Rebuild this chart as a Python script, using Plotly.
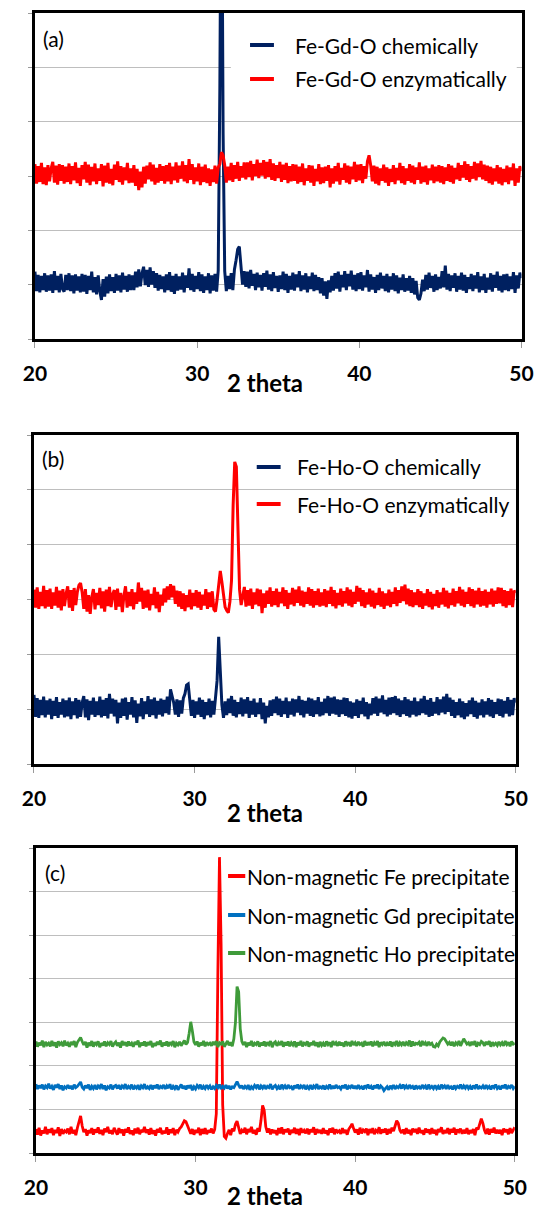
import numpy as np
import plotly.graph_objects as go

# ---------------- data (2-theta grid: 20.0 .. 50.0, step 0.1) ----------------
THETA_START = 20.0
THETA_STEP = 0.1
x_tick_vals = [20, 30, 40, 50]
axis_title = "2 theta"

# Panel (a)
fe_gd_o_chem = [
    124, 88, 118, 86, 116, 90, 121, 87, 117, 89,
    119, 85, 125, 90, 116, 86, 120, 92, 87, 118,
    90, 121, 88, 117, 84, 119, 89, 115, 86, 120,
    87, 118, 83, 116, 90, 124, 86, 114, 82, 117,
    88, 72, 110, 78, 115, 84, 119, 88, 114, 85,
    120, 89, 117, 86, 122, 91, 116, 87, 119, 90,
    117, 90, 124, 95, 128, 97, 121, 133, 99, 127,
    96, 132, 100, 125, 94, 121, 89, 118, 92, 115,
    86, 119, 90, 123, 87, 116, 83, 120, 89, 115,
    91, 122, 86, 117, 94, 130, 90, 120, 87, 116,
    92, 123, 88, 119, 85, 115, 90, 121, 84, 117,
    89, 120, 87, 126, 460, 1000, 380, 125, 88, 116,
    92, 121, 90, 128, 145, 165, 170, 138, 100, 125,
    96, 124, 93, 127, 98, 120, 90, 122, 95, 118,
    89, 121, 96, 126, 91, 119, 88, 123, 94, 116,
    87, 117, 92, 124, 90, 120, 85, 116, 91, 122,
    89, 119, 95, 125, 88, 117, 91, 121, 86, 115,
    92, 122, 88, 118, 90, 114, 84, 112, 80, 106,
    74, 108, 86, 116, 89, 121, 93, 124, 87, 118,
    95, 125, 90, 120, 97, 126, 91, 118, 88, 121,
    92, 123, 89, 117, 95, 127, 87, 119, 91, 114,
    85, 118, 90, 122, 93, 116, 88, 120, 86, 115,
    91, 121, 88, 117, 84, 113, 90, 119, 87, 112,
    89, 116, 85, 112, 82, 107, 76, 72, 84, 109,
    88, 118, 91, 122, 94, 116, 87, 119, 90, 114,
    93, 125, 95, 135, 91, 120, 88, 117, 94, 121,
    87, 116, 91, 122, 89, 118, 85, 114, 92, 120,
    88, 117, 93, 123, 86, 115, 90, 120, 85, 113,
    91, 121, 87, 118, 94, 124, 89, 116, 86, 119,
    90, 120, 88, 115, 92, 123, 85, 117, 93, 122,
    112,
]
fe_gd_o_enz = [
    322, 286, 318, 289, 324, 285, 316, 283, 320, 290,
    314, 326, 288, 319, 284, 322, 291, 320, 286, 317,
    289, 323, 285, 318, 292, 325, 287, 315, 282, 320,
    294, 326, 288, 321, 283, 317, 290, 323, 285, 314,
    291, 322, 281, 319, 288, 324, 286, 313, 283, 321,
    293, 327, 289, 318, 284, 316, 292, 324, 287, 314,
    288, 320, 282, 313, 274, 308, 279, 317, 286, 319,
    294, 325, 290, 321, 284, 315, 288, 322, 291, 318,
    286, 320, 290, 324, 285, 317, 292, 325, 288, 319,
    295, 327, 290, 320, 287, 331, 293, 322, 285, 316,
    290, 323, 283, 317, 289, 321, 287, 314, 282, 312,
    289, 319, 286, 316, 322, 344, 338, 320, 288, 317,
    292, 324, 289, 320, 295, 326, 291, 318, 297, 325,
    294, 325, 298, 328, 292, 322, 300, 330, 296, 324,
    301, 329, 295, 326, 298, 331, 293, 323, 291, 320,
    296, 326, 289, 321, 293, 324, 287, 318, 290, 322,
    291, 321, 286, 317, 289, 323, 283, 314, 291, 320,
    288, 319, 282, 313, 290, 322, 285, 316, 287, 317,
    291, 320, 279, 314, 286, 318, 290, 324, 284, 315,
    293, 323, 288, 319, 285, 317, 294, 326, 289, 321,
    292, 322, 287, 318, 295, 327, 338, 320, 290, 319,
    286, 317, 283, 314, 291, 321, 288, 316, 282, 313,
    289, 320, 285, 315, 292, 324, 287, 318, 284, 314,
    291, 322, 288, 319, 285, 316, 293, 325, 286, 317,
    289, 319, 284, 314, 292, 321, 287, 317, 290, 320,
    288, 318, 285, 316, 291, 322, 289, 319, 286, 315,
    294, 324, 291, 320, 297, 327, 293, 322, 289, 318,
    295, 326, 292, 323, 298, 328, 294, 321, 291, 319,
    287, 317, 284, 314, 290, 320, 286, 316, 283, 313,
    289, 319, 285, 316, 292, 323, 282, 314, 288, 318,
    309,
]

# Panel (b)
fe_ho_o_chem = [
    126, 86, 120, 84, 117, 89, 123, 85, 116, 90,
    119, 82, 115, 88, 122, 84, 113, 90, 119, 85,
    116, 87, 121, 82, 114, 89, 120, 83, 117, 86,
    112, 124, 85, 118, 80, 115, 90, 121, 86, 114,
    89, 123, 85, 117, 88, 120, 83, 128, 92, 119,
    87, 117, 74, 112, 84, 119, 88, 121, 81, 113,
    90, 122, 85, 116, 75, 110, 87, 120, 82, 114,
    91, 124, 86, 118, 89, 121, 83, 115, 90, 119,
    87, 117, 93, 123, 90, 136, 124, 112, 90, 118,
    86, 116, 92, 120, 128, 144, 146, 122, 88, 117,
    84, 114, 90, 121, 86, 117, 82, 113, 89, 119,
    85, 115, 90, 120, 152, 232, 172, 108, 84, 114,
    89, 119, 93, 124, 88, 117, 85, 113, 91, 121,
    87, 118, 92, 122, 84, 115, 90, 119, 86, 112,
    91, 120, 82, 112, 74, 106, 85, 116, 88, 118,
    93, 123, 89, 119, 86, 115, 91, 121, 84, 114,
    90, 119, 87, 118, 94, 124, 89, 117, 85, 115,
    92, 121, 88, 119, 86, 116, 91, 122, 87, 113,
    89, 119, 93, 124, 88, 121, 92, 123, 90, 118,
    86, 117, 91, 121, 88, 120, 85, 114, 83, 112,
    88, 118, 84, 115, 91, 121, 87, 113, 82, 110,
    89, 120, 92, 123, 88, 119, 94, 125, 91, 117,
    87, 121, 90, 122, 93, 124, 89, 119, 86, 116,
    91, 122, 88, 118, 85, 115, 90, 121, 87, 114,
    89, 119, 93, 124, 90, 117, 86, 120, 88, 113,
    92, 122, 89, 118, 94, 123, 91, 128, 95, 121,
    88, 117, 84, 113, 89, 119, 85, 114, 82, 111,
    87, 116, 91, 121, 86, 115, 83, 112, 89, 118,
    85, 114, 90, 120, 87, 117, 84, 113, 91, 119,
    88, 118, 85, 115, 92, 122, 87, 117, 89, 120,
    112,
]
fe_ho_o_enz = [
    318, 285, 322, 283, 314, 288, 325, 284, 317, 287,
    320, 283, 313, 289, 323, 285, 316, 280, 319, 288,
    311, 324, 285, 317, 279, 321, 290, 314, 326, 330,
    313, 283, 319, 278, 308, 274, 304, 319, 282, 312,
    290, 321, 284, 315, 278, 318, 288, 323, 286, 310,
    317, 281, 320, 287, 312, 277, 307, 324, 285, 314,
    288, 319, 282, 313, 292, 331, 296, 321, 283, 316,
    285, 318, 280, 310, 290, 322, 284, 314, 277, 309,
    289, 320, 295, 324, 300, 328, 304, 325, 292, 316,
    287, 315, 283, 311, 279, 308, 286, 318, 282, 312,
    288, 317, 285, 314, 281, 309, 289, 319, 283, 313,
    286, 315, 282, 278, 300, 328, 352, 332, 304, 286,
    280, 276, 296, 335, 472, 551, 542, 404, 318, 290,
    310, 323, 287, 317, 289, 320, 283, 313, 291, 320,
    288, 318, 275, 311, 285, 316, 292, 322, 287, 315,
    290, 320, 286, 314, 293, 322, 288, 317, 283, 312,
    291, 321, 288, 318, 294, 324, 289, 316, 286, 314,
    292, 322, 289, 319, 285, 315, 290, 320, 287, 313,
    289, 319, 286, 316, 292, 323, 288, 317, 284, 312,
    290, 320, 287, 315, 293, 322, 289, 318, 286, 314,
    292, 325, 296, 321, 288, 317, 285, 313, 291, 320,
    287, 316, 284, 312, 290, 321, 287, 315, 283, 311,
    289, 318, 286, 314, 292, 322, 288, 317, 294, 324,
    297, 327, 291, 320, 288, 317, 286, 313, 290, 319,
    286, 315, 283, 311, 289, 319, 286, 314, 282, 310,
    288, 317, 285, 313, 291, 321, 287, 316, 284, 312,
    290, 320, 287, 315, 293, 323, 289, 318, 286, 314,
    292, 322, 288, 319, 285, 316, 291, 321, 287, 315,
    289, 318, 285, 314, 291, 320, 287, 316, 292, 322,
    293, 321, 288, 317, 285, 315, 290, 320, 286, 316,
    312,
]

# Panel (c)
nm_fe = [
    55, 42, 58, 40, 52, 45, 60, 43, 54, 47,
    57, 41, 53, 46, 59, 39, 55, 44, 51, 48,
    56, 43, 60, 45, 53, 41, 58, 72, 85, 62,
    48, 55, 40, 52, 46, 57, 42, 54, 47, 59,
    44, 53, 41, 56, 48, 60, 45, 52, 43, 58,
    50, 42, 57, 46, 54, 40, 55, 47, 59, 44,
    52, 41, 56, 45, 58, 43, 53, 48, 60, 46,
    54, 42, 57, 44, 52, 40, 55, 47, 58, 43,
    51, 45, 59, 42, 54, 46, 57, 41, 53, 48,
    56, 60, 67, 74, 72, 63, 50, 44, 55, 42,
    53, 46, 58, 41, 55, 44, 57, 43, 52, 47,
    56, 45, 54, 90, 420, 679, 480, 110, 38, 34,
    45, 53, 41, 56, 50, 66, 73, 55, 44, 52,
    47, 58, 43, 55, 48, 60, 45, 53, 42, 57,
    49, 75, 109, 98, 60, 47, 56, 43, 54, 46,
    52, 41, 57, 45, 59, 43, 54, 48, 56, 42,
    53, 46, 58, 44, 55, 41, 57, 47, 52, 45,
    56, 43, 54, 48, 59, 42, 55, 46, 53, 44,
    57, 45, 52, 41, 56, 47, 58, 43, 54, 48,
    51, 44, 57, 46, 53, 42, 55, 60, 67, 56,
    47, 54, 42, 58, 45, 53, 49, 56, 41, 55,
    46, 57, 43, 52, 48, 59, 44, 54, 47, 56,
    42, 55, 45, 58, 50, 62, 74, 68, 52, 46,
    54, 43, 57, 45, 53, 41, 56, 48, 55, 44,
    58, 46, 52, 42, 56, 47, 54, 43, 57, 45,
    53, 41, 55, 48, 59, 44, 52, 46, 57, 43,
    55, 47, 58, 42, 54, 49, 56, 44, 53, 45,
    57, 43, 52, 46, 55, 41, 58, 54, 66, 79,
    68, 52, 44, 56, 42, 55, 47, 58, 45, 53,
    45, 53, 41, 56, 48, 54, 43, 57, 46, 52,
    59,
]
nm_gd = [
    158, 147, 155, 149, 157, 146, 154, 150, 159, 148,
    153, 145, 156, 150, 158, 147, 155, 144, 152, 149,
    156, 148, 154, 146, 157, 150, 153, 159, 163, 151,
    147, 155, 149, 157, 145, 153, 148, 156, 146, 154,
    150, 158, 147, 155, 144, 152, 149, 157, 146, 153,
    155, 148, 156, 146, 154, 150, 158, 147, 153, 149,
    157, 146, 153, 149, 156, 145, 154, 150, 158, 147,
    152, 148, 156, 146, 155, 149, 157, 147, 153, 150,
    156, 147, 154, 149, 158, 146, 153, 148, 155, 145,
    151, 157, 148, 154, 146, 155, 149, 156, 144, 152,
    147, 155, 150, 157, 146, 153, 148, 156, 149, 154,
    146, 152, 148, 155, 150, 157, 147, 153, 149, 156,
    148, 154, 146, 152, 150, 158, 164, 156, 149, 155,
    147, 153, 149, 156, 145, 152, 148, 155, 150, 157,
    146, 154, 149, 156, 147, 153, 150, 158, 146, 152,
    155, 148, 153, 146, 157, 149, 154, 147, 156, 150,
    152, 145, 155, 149, 157, 147, 154, 150, 156, 146,
    153, 148, 156, 146, 154, 150, 158, 147, 152, 149,
    155, 146, 153, 149, 157, 147, 154, 148, 156, 150,
    152, 147, 155, 149, 157, 146, 153, 150, 156, 148,
    154, 147, 156, 149, 152, 146, 155, 150, 157, 148,
    153, 146, 155, 149, 157, 147, 154, 150, 143, 148,
    152, 145, 154, 149, 156, 147, 153, 150, 155, 148,
    157, 149, 154, 147, 156, 150, 153, 146, 155, 149,
    152, 147, 156, 150, 154, 146, 157, 149, 153, 148,
    155, 148, 153, 146, 157, 150, 154, 147, 156, 149,
    152, 146, 155, 148, 153, 150, 157, 147, 154, 149,
    156, 148, 153, 146, 155, 150, 157, 147, 152, 149,
    154, 147, 156, 149, 153, 146, 155, 150, 157, 148,
    152, 146, 155, 149, 157, 147, 153, 150, 156, 148,
    153,
]
nm_ho = [
    256, 244, 253, 247, 258, 243, 255, 248, 252, 245,
    257, 246, 254, 242, 256, 249, 253, 245, 258, 247,
    252, 244, 255, 248, 257, 243, 254, 259, 265, 256,
    248, 255, 242, 253, 246, 257, 244, 254, 249, 256,
    243, 252, 247, 256, 245, 253, 249, 257, 244, 251,
    255, 246, 253, 242, 257, 248, 254, 245, 256, 247,
    252, 244, 255, 249, 258, 243, 253, 247, 256, 245,
    254, 248, 257, 243, 252, 246, 255, 249, 258, 244,
    253, 247, 256, 245, 254, 249, 257, 243, 252, 248,
    255, 246, 253, 258, 249, 254, 275, 301, 280, 255,
    248, 256, 244, 253, 247, 257, 245, 254, 249, 252,
    246, 255, 248, 257, 243, 253, 250, 256, 244, 252,
    257, 247, 254, 245, 262, 300, 382, 370, 285, 256,
    248, 255, 243, 253, 247, 257, 245, 252, 249, 256,
    244, 253, 247, 256, 245, 254, 249, 257, 243, 252,
    255, 246, 253, 248, 257, 244, 254, 247, 256, 245,
    253, 248, 256, 243, 254, 247, 257, 245, 252, 249,
    256, 244, 253, 248, 257, 246, 254, 243, 255, 247,
    252, 245, 256, 249, 254, 243, 257, 248, 253, 246,
    255, 247, 253, 244, 256, 249, 254, 245, 257, 248,
    253, 246, 255, 249, 252, 244, 257, 247, 254, 248,
    256, 245, 253, 248, 257, 243, 254, 249, 255, 246,
    252, 247, 256, 244, 254, 249, 257, 245, 253, 248,
    255, 246, 253, 249, 258, 244, 256, 247, 252, 250,
    254, 245, 257, 248, 253, 246, 255, 249, 252, 244,
    243, 250, 246, 255, 260, 264, 262, 256, 250, 254,
    247, 255, 245, 253, 249, 257, 246, 254, 262, 256,
    250, 253, 246, 255, 248, 257, 244, 252, 249, 256,
    253, 246, 255, 249, 257, 244, 254, 248, 252, 247,
    255, 248, 253, 246, 257, 249, 254, 245, 256, 250,
    252,
]

names_a = ["Fe-Gd-O chemically", "Fe-Gd-O enzymatically"]
names_b = ["Fe-Ho-O chemically", "Fe-Ho-O enzymatically"]
names_c = ["Non-magnetic Fe precipitate", "Non-magnetic Gd precipitate",
           "Non-magnetic Ho precipitate"]
panel_labels = ["(a)", "(b)", "(c)"]

# ---------------- styling / layout ----------------
W, H = 545, 1211
NAVY, RED, BLUE, GREEN = "#002060", "#FF0000", "#0070C0", "#3F9B3A"
FONT = "Lato"


def fx(p):
    return p / W


def fy(p):
    return 1 - p / H


panels = [
    dict(series=[fe_gd_o_chem, fe_gd_o_enz], names=names_a, colors=[NAVY, RED],
         width=3.0, left=24, right=533, top=13, bottom=339, ymax=600,
         label_xy=(30, 38), title_y=383,
         leg=dict(line_x=(249, 274), text_x=294, ys=[45, 79], size=21,
                  box=(229, 15, 528, 100))),
    dict(series=[fe_ho_o_chem, fe_ho_o_enz], names=names_b, colors=[NAVY, RED],
         width=3.0, left=23, right=527, top=435, bottom=764, ymax=600,
         label_xy=(29, 458), title_y=812,
         leg=dict(line_x=(256, 281), text_x=296, ys=[467, 504], size=21, box=None)),
    dict(series=[nm_fe, nm_gd, nm_ho], names=names_c, colors=[RED, BLUE, GREEN],
         width=2.8, left=25, right=526, top=848, bottom=1153, ymax=700,
         label_xy=(32, 872), title_y=1195,
         leg=dict(line_x=(226, 244), text_x=244, ys=[876, 915, 953], size=21,
                  box=(221, 850, 523, 972))),
]

fig = go.Figure()
shapes, annotations = [], []
layout_axes = {}

for i, p in enumerate(panels):
    k = "" if i == 0 else str(i + 1)
    xa, ya = "x" + k, "y" + k
    for vals, nm, col in zip(p["series"], p["names"], p["colors"]):
        theta = np.round(THETA_START + THETA_STEP * np.arange(len(vals)), 2)
        fig.add_trace(go.Scatter(x=theta, y=vals, mode="lines", name=nm,
                                 line=dict(color=col, width=p["width"]),
                                 xaxis=xa, yaxis=ya, showlegend=False,
                                 hoverinfo="skip"))
    layout_axes["xaxis" + k] = dict(
        domain=[fx(p["left"]), fx(p["right"])], anchor=ya, range=[20, 50],
        tickmode="array", tickvals=x_tick_vals, showgrid=False, zeroline=False,
        showline=True, linecolor="black", linewidth=3, mirror=True,
        ticks="outside", ticklen=6, tickwidth=1, tickcolor="#9a9a9a",
        ticklabelstandoff=8,
        tickfont=dict(family=FONT, size=21, color="black", weight="bold"))
    layout_axes["yaxis" + k] = dict(
        domain=[fy(p["bottom"]), fy(p["top"])], anchor=xa, range=[0, p["ymax"]],
        dtick=100, showgrid=True, gridcolor="#BEBEBE", gridwidth=1,
        zeroline=False, showticklabels=False, showline=True, linecolor="black",
        linewidth=3, mirror=True, ticks="outside", ticklen=4, tickwidth=1,
        tickcolor="#9a9a9a")

    lx, ly = p["label_xy"]
    annotations.append(dict(text=panel_labels[i], x=fx(lx), y=fy(ly), xref="paper",
                            yref="paper", xanchor="left", yanchor="middle",
                            showarrow=False,
                            font=dict(family=FONT, size=21, color="black")))
    annotations.append(dict(text="<b>%s</b>" % axis_title, x=fx(265), y=fy(p["title_y"]),
                            xref="paper", yref="paper", xanchor="center",
                            yanchor="middle", showarrow=False,
                            font=dict(family=FONT, size=24, color="black")))
    lg = p["leg"]
    if lg["box"] is not None:
        bx0, by0, bx1, by1 = lg["box"]
        # white legend background (sits over the gridlines, clear of all traces)
        shapes.append(dict(type="rect", xref="paper", yref="paper",
                           x0=fx(bx0), x1=fx(bx1), y0=fy(by1), y1=fy(by0),
                           fillcolor="white", line=dict(width=0), layer="above"))
    for nm, col, yy in zip(p["names"], p["colors"], lg["ys"]):
        shapes.append(dict(type="line", xref="paper", yref="paper",
                           x0=fx(lg["line_x"][0]), x1=fx(lg["line_x"][1]),
                           y0=fy(yy), y1=fy(yy), line=dict(color=col, width=4),
                           layer="above"))
        annotations.append(dict(text=nm, x=fx(lg["text_x"]), y=fy(yy), xref="paper",
                                yref="paper", xanchor="left", yanchor="middle",
                                showarrow=False,
                                font=dict(family=FONT, size=lg["size"], color="black")))

fig.update_layout(
    width=W, height=H, margin=dict(l=0, r=0, t=0, b=0),
    paper_bgcolor="white", plot_bgcolor="white",
    shapes=shapes, annotations=annotations, showlegend=False,
    **layout_axes)

fig.write_html("out.html", config={"displayModeBar": False},
               post_script="document.body.style.margin='0px';"
                           "document.body.style.overflow='hidden';")
